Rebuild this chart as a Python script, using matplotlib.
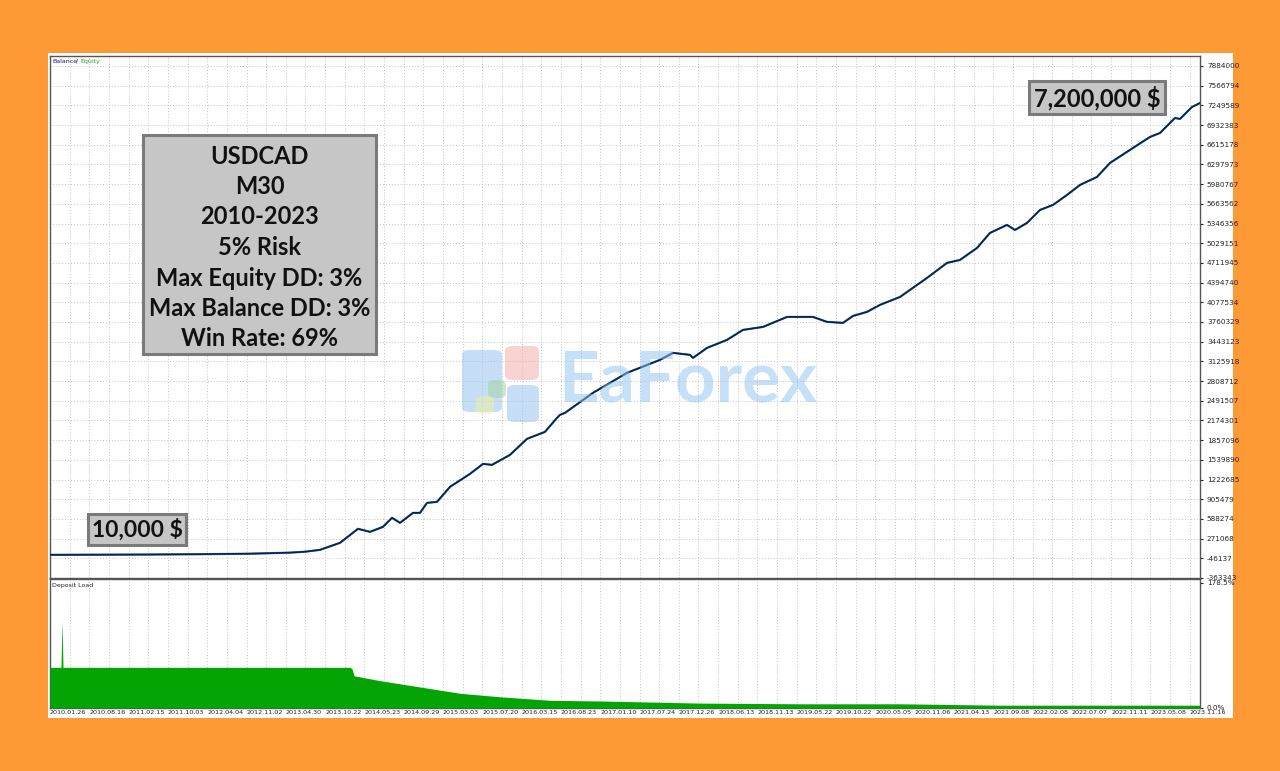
import matplotlib.pyplot as plt
from matplotlib.patches import Rectangle, FancyBboxPatch
import numpy as np

W, H = 1280, 771

# balance curve, x = position along the report axis (0 .. 1150)
equity_x = [0, 50, 100, 150, 200, 240, 255, 270, 290, 308, 320, 333, 342, 350, 363, 370,
            377, 387, 400, 420, 433, 442, 460, 477, 495, 507, 510, 515, 543, 577, 610, 623,
            640, 643, 657, 677, 693, 713, 737, 743, 763, 777, 793, 803, 817, 830, 850, 877,
            897, 910, 927, 940, 957, 965, 977, 990, 1003, 1017, 1030, 1047, 1060, 1083, 1100,
            1110, 1125, 1130, 1142, 1150]
equity_y = [10000, 12000, 15000, 20000, 28000, 45000, 60000, 90000, 203000, 429000, 380000,
            461000, 606000, 525000, 686000, 686000, 847000, 863000, 1105000, 1314000, 1475000,
            1459000, 1620000, 1878000, 1991000, 2216000, 2264000, 2297000, 2619000, 2941000,
            3150000, 3263000, 3231000, 3182000, 3343000, 3472000, 3633000, 3681000, 3842000,
            3842000, 3842000, 3762000, 3746000, 3858000, 3923000, 4036000, 4164000, 4470000,
            4712000, 4760000, 4953000, 5195000, 5324000, 5243000, 5356000, 5565000, 5646000,
            5807000, 5968000, 6097000, 6322000, 6564000, 6741000, 6805000, 7047000, 7031000,
            7224000, 7288000]

# deposit load, percent
load_x = [0, 10, 11, 12, 13, 14, 100, 200, 300, 302, 304, 330, 370, 410, 450, 500, 550,
          650, 750, 850, 950, 1150]
load_y = [58, 58, 58, 124, 58, 58, 58, 58, 58, 56, 46, 39, 30, 21, 16, 11, 10, 7, 6, 6, 4, 4]

y_ticks = [7884000, 7566794, 7249589, 6932383, 6615178, 6297973, 5980767, 5663562, 5346356,
           5029151, 4711945, 4394740, 4077534, 3760329, 3443123, 3125918, 2808712, 2491507,
           2174301, 1857096, 1539890, 1222685, 905479, 588274, 271068, -46137, -363343]

date_labels = ["2010.01.26", "2010.08.16", "2011.02.15", "2011.10.03", "2012.04.04",
               "2012.11.02", "2013.04.30", "2013.10.22", "2014.05.23", "2014.09.29",
               "2015.03.03", "2015.07.20", "2016.03.15", "2016.08.23", "2017.01.10",
               "2017.07.24", "2017.12.26", "2018.06.13", "2018.11.13", "2019.05.22",
               "2019.10.22", "2020.05.05", "2020.11.06", "2021.04.13", "2021.09.08",
               "2022.02.08", "2022.07.07", "2022.11.11", "2023.05.08", "2023.11.16"]

stats_lines = ["USDCAD", "M30", "2010-2023", "5% Risk", "Max Equity DD: 3%",
               "Max Balance DD: 3%", "Win Rate: 69%"]

fig = plt.figure(figsize=(12.8, 7.71), dpi=100, facecolor="#fe9a36")
fig.patches.append(Rectangle((48 / W, 1 - 718 / H), (1233 - 48) / W, (718 - 53) / H,
                             transform=fig.transFigure, facecolor="white",
                             edgecolor="none", zorder=-5))

ax = fig.add_axes([50 / W, 1 - 578 / H, 1150 / W, 522 / H])
ax2 = fig.add_axes([50 / W, 1 - 708 / H, 1150 / W, 129 / H])

step = 19.65
grid_x = np.arange(0, 1150, step)
label_x = grid_x[::2][:len(date_labels)]

for a in (ax, ax2):
    a.set_facecolor("white")
    a.set_xlim(0, 1150)
    a.set_xticks(grid_x, minor=True)
    a.set_xticks([])
    a.grid(which="minor", axis="x", linestyle=(0, (1, 2)), color="#c4c4c4", linewidth=0.7)
    for s in a.spines.values():
        s.set_color("#555555")
        s.set_linewidth(1.0)
    a.yaxis.tick_right()
    a.tick_params(axis="y", labelsize=5.2, length=2, pad=3, colors="#222222")
    a.tick_params(axis="x", which="both", length=0)

# main balance / equity panel
ax.set_ylim(-363343, 8045000)
ax.set_yticks(y_ticks)
ax.set_yticklabels([str(v) for v in y_ticks])
ax.grid(axis="y", linestyle=(0, (1, 2)), color="#c4c4c4", linewidth=0.7)
ax.plot(equity_x, equity_y, color="#3c9a4a", linewidth=1.6, zorder=3)
ax.plot(equity_x, equity_y, color="#0b1a6e", linewidth=1.2, zorder=4)
ax.set_xticklabels([])

ax.text(0.002, 0.995, "Balance", transform=ax.transAxes, fontsize=4.5, color="#1a1a8a",
        va="top", ha="left")
ax.text(0.0222, 0.995, "/", transform=ax.transAxes, fontsize=4.5, color="#333333",
        va="top", ha="left")
ax.text(0.0262, 0.995, "Equity", transform=ax.transAxes, fontsize=4.5, color="#2ca02c",
        va="top", ha="left")

# deposit load panel
ax2.set_ylim(0, 184)
ax2.set_yticks([0, 178.5])
ax2.set_yticklabels(["0.0%", "178.5%"])
ax2.fill_between(load_x, 0, load_y, color="#05a405", linewidth=0, zorder=3)
ax2.text(0.002, 0.97, "Deposit Load", transform=ax2.transAxes, fontsize=4.5,
         color="#222222", va="top", ha="left")
for xv, lab in zip(label_x, date_labels):
    ax2.text(xv, -3, lab, fontsize=4.6, color="#222222", ha="left", va="top",
             clip_on=False)

# watermark
fig.text(688 / W, 1 - 381 / H, "EaForex", fontsize=51, fontweight="bold",
         family="Lato", color="#8fc3f0", alpha=0.5, ha="center", va="center", zorder=5)
wm = [((462, 350), 40, 62, "#8fc0f0"), ((505, 346), 34, 34, "#f4a7a7"),
      ((488, 380), 18, 18, "#9fd29f"), ((476, 396), 18, 18, "#f0f09a"),
      ((507, 385), 32, 37, "#8fc0f0")]
for (px, py), w, h, c in wm:
    fig.patches.append(FancyBboxPatch((px / W, 1 - (py + h) / H), w / W, h / H,
                                      boxstyle="round,pad=0,rounding_size=0.006",
                                      transform=fig.transFigure, facecolor=c,
                                      edgecolor="none", alpha=0.5, zorder=5))


def label_box(x0, y0, x1, y1):
    fig.patches.append(Rectangle((x0 / W, 1 - y1 / H), (x1 - x0) / W, (y1 - y0) / H,
                                 transform=fig.transFigure, facecolor="#c6c6c6",
                                 edgecolor="#7a7a7a", linewidth=2.2, zorder=6))


label_box(143, 135, 376, 354)
for i, line in enumerate(stats_lines):
    fig.text(259.5 / W, 1 - (156 + i * 30.5) / H, line, fontsize=17, fontweight="bold",
             family="Lato", color="#111111", ha="center", va="center", zorder=7)

label_box(88, 514, 186, 545)
fig.text(137 / W, 1 - 530 / H, "10,000 $", fontsize=16.5, fontweight="bold",
         family="Lato", color="#111111", ha="center", va="center", zorder=7)

label_box(1029, 81, 1165, 114)
fig.text(1097 / W, 1 - 98 / H, "7,200,000 $", fontsize=17, fontweight="bold",
         family="Lato", color="#111111", ha="center", va="center", zorder=7)

fig.savefig("out.png", dpi=100, facecolor=fig.get_facecolor())
